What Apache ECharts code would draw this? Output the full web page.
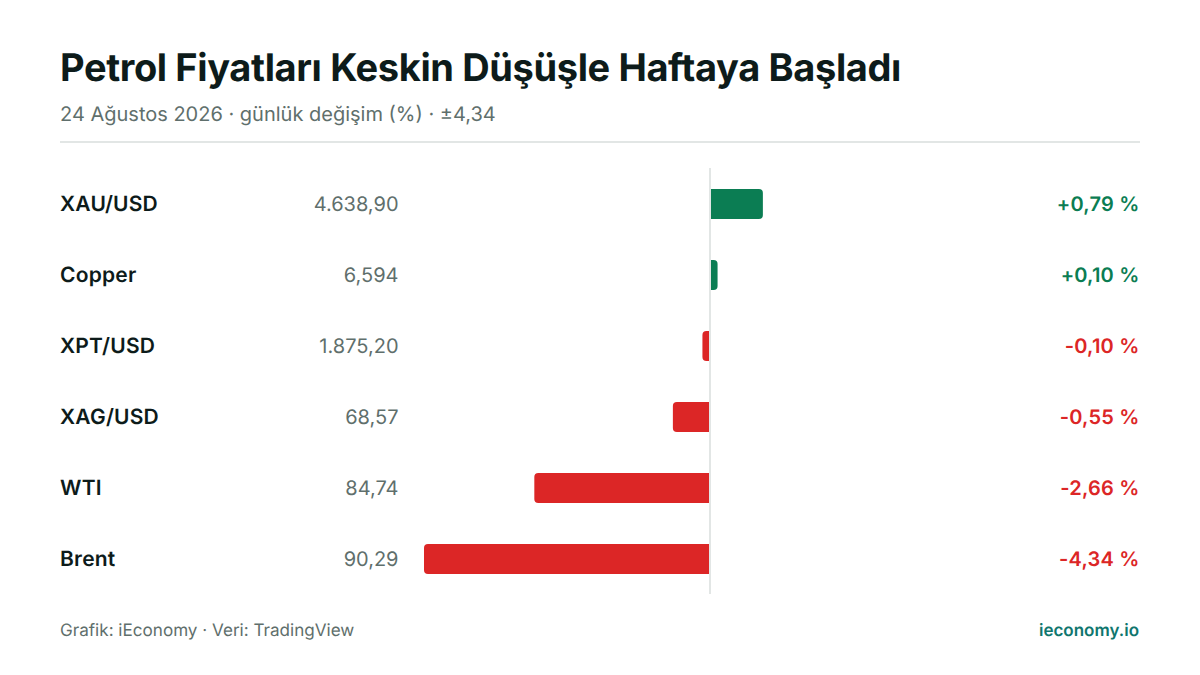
<!DOCTYPE html>
<html><head><meta charset="utf-8">
<style>html,body{margin:0;padding:0;background:#fff}#c{width:1200px;height:675px}
svg text{text-rendering:geometricPrecision}
text[style*="38px"]{letter-spacing:-0.38px}
text[style*="21px"]{letter-spacing:0.21px}
text[style*="20.01px"]{letter-spacing:0.2px}
</style>
<script src="https://cdn.jsdelivr.net/npm/echarts@6/dist/echarts.min.js"></script>
</head><body><div id="c"></div>
<script>
const categories = ['XAU/USD','Copper','XPT/USD','XAG/USD','WTI','Brent'];
const prices = ['4.638,90','6,594','1.875,20','68,57','84,74','90,29'];
const changes = [0.79,0.10,-0.10,-0.55,-2.66,-4.34];
const changeLabels = ['+0,79 %','+0,10 %','-0,10 %','-0,55 %','-2,66 %','-4,34 %'];
const GREEN='#0B7D53', RED='#DC2626', MUTED='#5F6F6C', INK='#0D1B1A', FONT='Inter';
const chart = echarts.init(document.getElementById('c'),null,{renderer:'svg'});
const gain = changes.map(v=>v>0?v:null), loss = changes.map(v=>v<0?v:null);
chart.setOption({
  animation:false, backgroundColor:'#fff',
  title:[
    {text:'Petrol Fiyatları Keskin Düşüşle Haftaya Başladı',left:60,top:48.5,padding:0,textStyle:{fontFamily:FONT,fontWeight:700,fontSize:38,color:INK}},
    {text:'24 Ağustos 2026 · günlük değişim (%) · ±4,34',left:60,top:103.5,padding:0,textStyle:{fontFamily:FONT,fontWeight:400,fontSize:20,color:MUTED}},
    {text:'Grafik: iEconomy · Veri: TradingView',left:60,top:622,padding:0,textStyle:{fontFamily:FONT,fontWeight:400,fontSize:17.1,color:MUTED}},
    {text:'ieconomy.io',right:61,top:622,padding:0,textStyle:{fontFamily:FONT,fontWeight:600,fontSize:17,color:'#0F766E'}}
  ],
  graphic:[{type:'rect',shape:{x:60,y:141,width:1080,height:2},style:{fill:'#E2E6E5'},silent:true}],
  grid:[
    {left:424,width:285,top:168.5,height:426},
    {left:711,width:285,top:168.5,height:426},
    {left:711,width:285,top:168,height:426}
  ],
  xAxis:[
    {gridIndex:0,type:'value',min:-4.34,max:0,show:false},
    {gridIndex:1,type:'value',min:0,max:4.34,show:false},
    {gridIndex:2,type:'value',min:0,max:4.34,show:false}
  ],
  yAxis:[
    {gridIndex:0,type:'category',inverse:true,data:categories,position:'left',axisLine:{show:false},axisTick:{show:false},
      axisLabel:{align:'left',margin:364,fontFamily:FONT,fontWeight:600,fontSize:21,padding:[1,0,0,0],color:INK}},
    {gridIndex:0,type:'category',inverse:true,data:prices,position:'left',axisLine:{show:false},axisTick:{show:false},
      axisLabel:{align:'right',margin:25.5,fontFamily:FONT,fontWeight:400,fontSize:20,padding:[1,0,0,0],color:MUTED}},
    {gridIndex:1,type:'category',inverse:true,data:categories,position:'left',axisLine:{show:false},axisTick:{show:false},axisLabel:{show:false}},
    {gridIndex:1,type:'category',inverse:true,data:changeLabels,position:'right',axisLine:{show:false},axisTick:{show:false},
      axisLabel:{align:'right',margin:143.5,fontFamily:FONT,fontWeight:600,fontSize:20.01,color:(v,i)=>changes[i]>=0?GREEN:RED}},
    {gridIndex:2,type:'category',inverse:true,data:categories,position:'left',offset:1,axisLine:{show:true,onZero:false,lineStyle:{color:'#E2E6E5',width:2,cap:'butt'}},axisTick:{show:false},axisLabel:{show:false}}
  ],
  series:[
    {type:'bar',xAxisIndex:0,yAxisIndex:0,data:loss,barWidth:30,silent:true,itemStyle:{color:RED,borderRadius:[4,0,0,4]}},
    {type:'bar',xAxisIndex:1,yAxisIndex:2,data:gain,barWidth:30,silent:true,itemStyle:{color:GREEN,borderRadius:[0,4,4,0]}}
  ]
});
</script></body></html>
